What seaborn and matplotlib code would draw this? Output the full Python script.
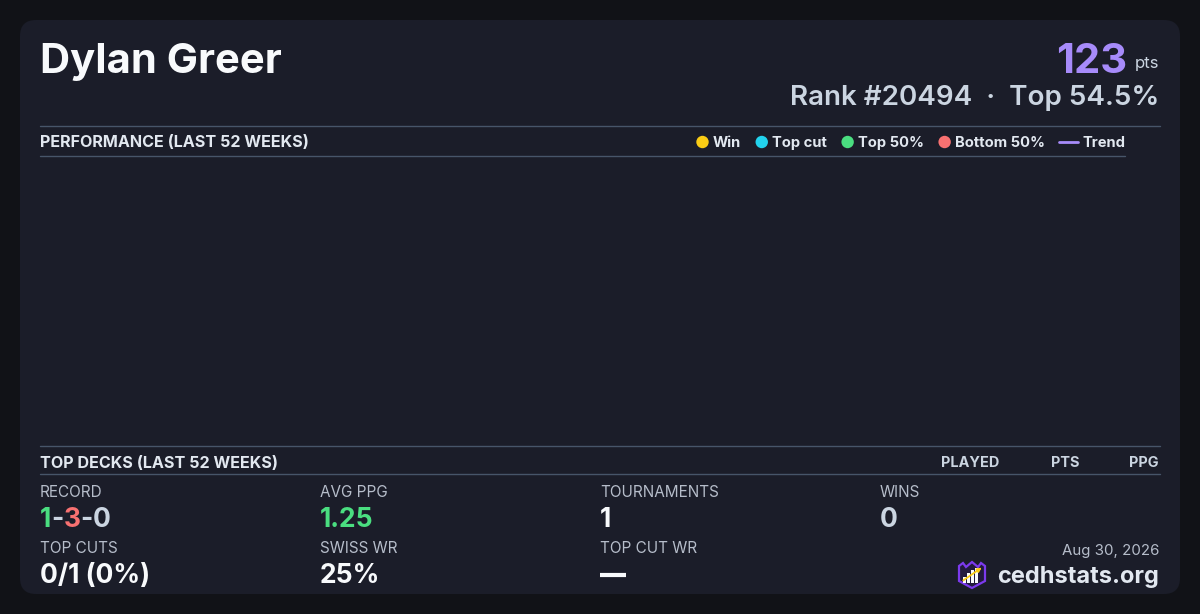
import matplotlib
matplotlib.use("Agg")
import matplotlib.pyplot as plt
import seaborn as sns
import pandas as pd
from matplotlib.patches import FancyBboxPatch, Polygon, Rectangle, Circle

# ---- data ----
player = "Dylan Greer"
points = 123
rank = 20494
top_pct = 54.5

result_types = ["Win", "Top cut", "Top 50%", "Bottom 50%"]
result_colors = ["#facc15", "#22d3ee", "#4ade80", "#f87171"]
trend_label = "Trend"
trend_color = "#a78bfa"

# no events in the last 52 weeks -> empty series
weeks = []
ppg = []
results = []

deck_columns = ["PLAYED", "PTS", "PPG"]

record = [1, 3, 0]
record_colors = ["#4ade80", "#f87171", "#cbd5e1"]
avg_ppg = 1.25
tournaments = 1
wins = 0
top_cuts = "0/1 (0%)"
swiss_wr = "25%"
top_cut_wr = "\u2014"
date_str = "Aug 30, 2026"
site = "cedhstats.org"

# ---- style ----
sns.set_theme(style="dark")
plt.rcParams["font.family"] = ["Inter", "DejaVu Sans"]

CARD = "#1b1d29"
RULE = "#475569"
WHITE = "#f8fafc"
LIGHT = "#e2e8f0"
MUTED = "#cbd5e1"
LABEL = "#b6bdca"

fig = plt.figure(figsize=(12, 6.14), dpi=100)
fig.patch.set_facecolor("#111217")
bg = fig.add_axes([0, 0, 1, 1])
bg.set_xlim(0, 1200)
bg.set_ylim(614, 0)
bg.axis("off")
bg.add_patch(FancyBboxPatch((20, 20), 1160, 574, boxstyle="round,pad=0,rounding_size=16",
                            fc=CARD, ec="none"))

renderer = fig.canvas.get_renderer()


def txt(x, y, s, size, color, weight="normal", ha="left"):
    return bg.text(x, y, s, fontsize=size, color=color, fontweight=weight,
                   ha=ha, va="baseline")


def width(t):
    return t.get_window_extent(renderer).width


# header
txt(40, 73, player, 30, WHITE, "bold")
txt(1159, 68, "pts", 12, MUTED, ha="right")
txt(1127, 73, str(points), 30, trend_color, "bold", ha="right")
txt(1159, 105, f"Rank #{rank}  \u00b7  Top {top_pct}%", 20, MUTED, "semibold", ha="right")

# performance section
bg.plot([40, 1160], [126, 126], color=RULE, lw=1)
bg.plot([40, 1125], [156, 156], color=RULE, lw=1)
bg.plot([40, 1160], [446, 446], color=RULE, lw=1)
bg.plot([40, 1160], [474, 474], color=RULE, lw=1)
txt(40, 147, "PERFORMANCE (LAST 52 WEEKS)", 11.6, LIGHT, "bold")

# legend, laid out left to right
lx = 696
for name, col in zip(result_types, result_colors):
    bg.add_patch(Circle((lx + 6.5, 142), 6.2, fc=col, ec="none"))
    t = txt(lx + 16.5, 147, name, 10.6, LIGHT, "bold")
    lx += 16.5 + width(t) + 14.5
bg.plot([lx, lx + 19], [142, 142], color=trend_color, lw=2)
txt(lx + 23, 147, trend_label, 10.6, LIGHT, "bold")

# performance chart (no games in window)
perf = pd.DataFrame({"week": pd.Series(weeks, dtype=float),
                     "ppg": pd.Series(ppg, dtype=float),
                     "result": pd.Series(results, dtype=object)})
ax = fig.add_axes([40 / 1200, (614 - 446) / 614, 1085 / 1200, 289 / 614])
ax.set_facecolor("none")
sns.scatterplot(data=perf, x="week", y="ppg", ax=ax, legend=False)
sns.lineplot(data=perf, x="week", y="ppg", ax=ax, color=trend_color, legend=False)
ax.set_xlabel("")
ax.set_ylabel("")
ax.set_xticks([])
ax.set_yticks([])
for s in ax.spines.values():
    s.set_visible(False)

# top decks
txt(40, 468, "TOP DECKS (LAST 52 WEEKS)", 11.6, LIGHT, "bold")
for name, xr in zip(deck_columns, [999, 1079, 1159]):
    txt(xr, 467, name, 10.4, MUTED, "bold", ha="right")

# stats grid
cols = [40, 320, 600, 880]
LS = 11
VS = 19
txt(cols[0], 497, "RECORD", LS, LABEL)
rx = cols[0]
for i, (v, c) in enumerate(zip(record, record_colors)):
    if i > 0:
        t = txt(rx, 527, "-", VS, MUTED, "bold")
        rx += width(t)
    t = txt(rx, 527, str(v), VS, c, "bold")
    rx += width(t)

txt(cols[1], 497, "AVG PPG", LS, LABEL)
txt(cols[1], 527, f"{avg_ppg:.2f}", VS, "#4ade80", "bold")
txt(cols[2], 497, "TOURNAMENTS", LS, LABEL)
txt(cols[2], 527, str(tournaments), VS, WHITE, "bold")
txt(cols[3], 497, "WINS", LS, LABEL)
txt(cols[3], 527, str(wins), VS, MUTED, "bold")

txt(cols[0], 553, "TOP CUTS", LS, LABEL)
txt(cols[0], 583, top_cuts, VS, WHITE, "bold")
txt(cols[1], 553, "SWISS WR", LS, LABEL)
txt(cols[1], 583, swiss_wr, VS, WHITE, "bold")
txt(cols[2], 553, "TOP CUT WR", LS, LABEL)
bg.plot([600, 626], [575, 575], color=WHITE, lw=3.0, solid_capstyle="butt")

# footer
txt(1159, 555, date_str, 10.8, LABEL, ha="right")
txt(1159, 583, site, 17, LIGHT, "bold", ha="right")

# little logo
bg.add_patch(Polygon([(959, 566), (963, 563), (966, 567), (972, 562), (978, 567), (981, 563),
                      (985, 566), (985, 581), (972, 588), (959, 581)],
                     closed=True, fc="#221a3d", ec="#7c3aed", lw=1.6))
for x0, top in [(963, 577), (967, 573), (971, 570), (975, 568)]:
    bg.add_patch(Rectangle((x0, top), 2.6, 583 - top, fc=WHITE, ec="none"))
bg.annotate("", xy=(984, 566), xytext=(961, 582),
            arrowprops=dict(arrowstyle="-|>", color="#facc15", lw=1.3, mutation_scale=6))

fig.savefig("out.png", dpi=100, facecolor=fig.get_facecolor())
